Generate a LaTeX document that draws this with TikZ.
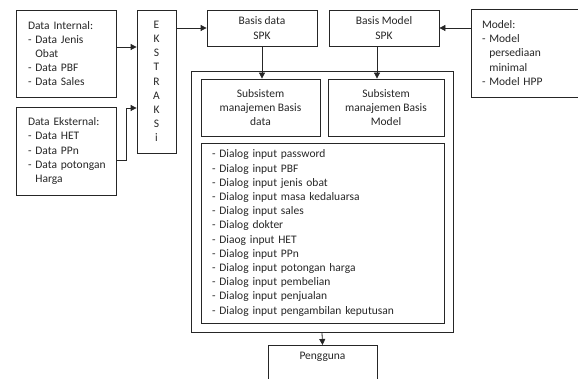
\documentclass[tikz,border=0pt]{standalone}
\usepackage{fontspec}
\setmainfont{Carlito}
\usetikzlibrary{positioning, arrows.meta}
\newcommand{\dashind}{\phantom{- }}
\tikzset{
    >={Triangle[length=6pt,width=6pt]},
    every node/.style={font=\fontsize{11.5}{14.2}\selectfont, text=black!85},
    box/.style={draw=black!85, line width=0.8pt, inner sep=0pt},
    listbox/.style={box, align=left, inner xsep=12pt},
    arr/.style={->, line width=0.8pt, draw=black!85}
}

\begin{document}
\begin{tikzpicture}[x=1pt, y=-1pt]
    \useasboundingbox (0,0) rectangle (578,379);
        % sources
        \node[listbox, text width=76pt, minimum height=87pt] (dataint) at (66,53.5)
            {Data Internal:\\- Data Jenis\\\dashind Obat\\- Data PBF\\- Data Sales};
        \node[listbox, text width=76pt, minimum height=88pt] (dataeks) at (66,151)
            {Data Eksternal:\\- Data HET\\- Data PPn\\\mbox{- Data potongan}\\\dashind Harga};
        \node[box, align=center, minimum width=39pt, minimum height=143pt] (ekstraksi) at (156.5,81.5)
            {E\\K\\S\\T\\R\\A\\K\\S\\i};
        \node[box, align=center, minimum width=110pt, minimum height=36pt] (basisdata) at (262,28) {Basis data\\SPK};
        \node[box, align=center, minimum width=110pt, minimum height=36pt] (basismodel) at (384,28) {Basis Model\\SPK};
        \node[listbox, inner xsep=11pt, text width=92pt, minimum height=88pt] (model) at (528,53)
            {Model:\\- Model\\\dashind persediaan\\\dashind minimal\\- Model HPP};
        % subsystems
        \node[box, minimum width=262pt, minimum height=261pt] (subsys) at (322,201.5) {};
        \node[box, align=center, minimum width=119pt, minimum height=57pt] (subdata) at (260.5,107.5)
            {Subsistem\\manajemen Basis\\data};
        \node[box, align=center, minimum width=116pt, minimum height=57pt] (submodel) at (386,107.5)
            {Subsistem\\manajemen Basis\\Model};
        \node[listbox, inner xsep=11pt, text width=221pt, minimum height=180pt] (dialog) at (322.5,233)
            {- Dialog input password\\
             - Dialog input PBF\\
             - Dialog input jenis obat\\
             - Dialog input masa kedaluarsa\\
             - Dialog input sales\\
             - Dialog dokter\\
             - Diaog input HET\\
             - Dialog input PPn\\
             - Dialog input potongan harga\\
             - Dialog input pembelian\\
             - Dialog input penjualan\\
             - Dialog input pengambilan keputusan};
        \node[box, minimum width=109pt, minimum height=60pt, anchor=north] (pengguna) at (322.5,345) {};
        \node[below=4pt of pengguna.north] (penggunatext) {Pengguna};

        \coordinate (intout) at ([yshift=6.5pt]dataint.east);
        \coordinate (eksout) at ([yshift=-9pt]dataeks.east);
        \coordinate (eksin) at ([yshift=-26.5pt]ekstraksi.west);
        \coordinate (modelout) at ([xshift=-7pt]basismodel.south);
        \draw[arr] (intout) -- (intout -| ekstraksi.west);
        \draw[arr] (eksout) -- ++(10,0) |- (eksin);
        \draw[arr] (ekstraksi.east |- basisdata.west) -- (basisdata.west);
        \draw[arr] (model.west |- basismodel.east) -- (basismodel.east);
        \draw[arr] (basisdata.south) -- (basisdata.south |- subdata.north);
        \draw[arr] (modelout) -- (modelout |- submodel.north);
        \draw[arr] (subsys.south) -- (pengguna.north);
\end{tikzpicture}
\end{document}
